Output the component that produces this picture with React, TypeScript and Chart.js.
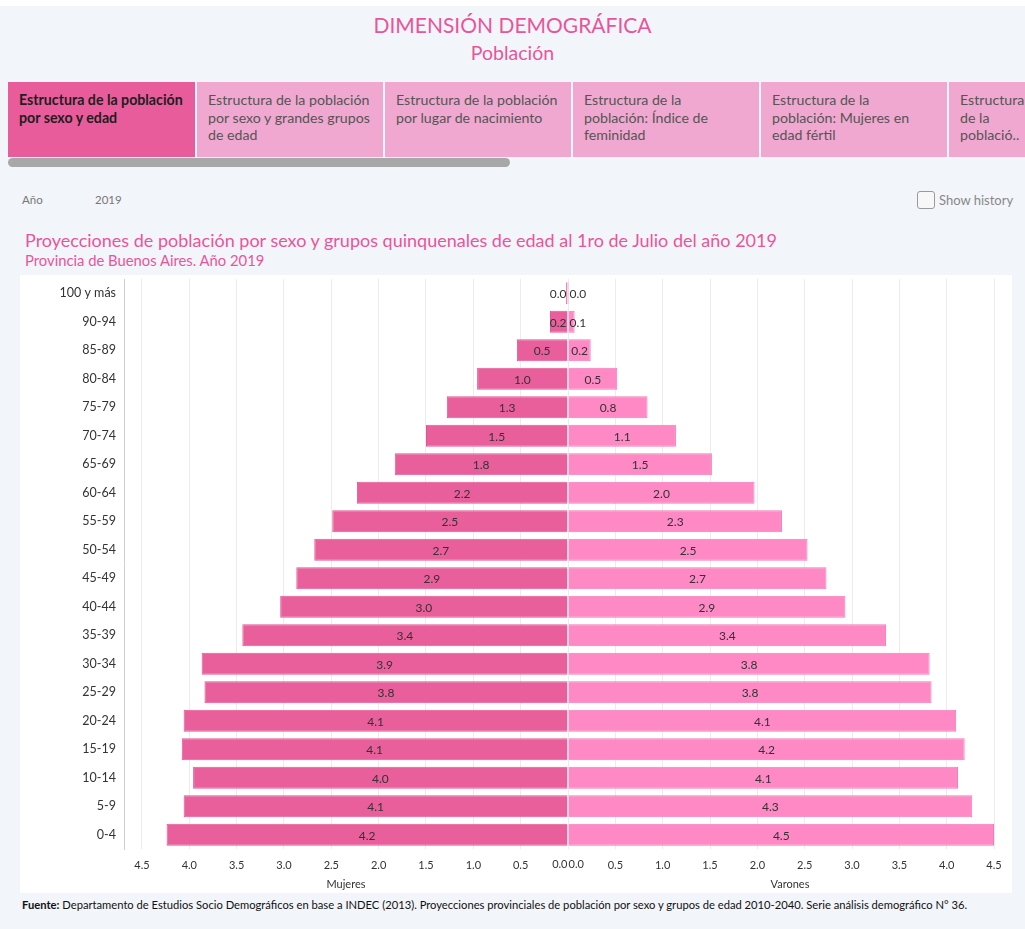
import React, { useEffect, useRef } from "react";
import { Chart, registerables } from "chart.js";

Chart.register(...registerables);

const ageGroups = [
  "100 y más", "90-94", "85-89", "80-84", "75-79", "70-74", "65-69", "60-64", "55-59", "50-54",
  "45-49", "40-44", "35-39", "30-34", "25-29", "20-24", "15-19", "10-14", "5-9", "0-4",
];
const mujeres = [0.02, 0.19, 0.54, 0.96, 1.28, 1.5, 1.83, 2.23, 2.49, 2.68, 2.87, 3.04, 3.44, 3.87, 3.84, 4.06, 4.08, 3.96, 4.06, 4.24];
const varones = [0.01, 0.07, 0.24, 0.52, 0.84, 1.14, 1.52, 1.97, 2.26, 2.53, 2.73, 2.93, 3.36, 3.82, 3.84, 4.1, 4.19, 4.12, 4.27, 4.5];
const axisTicks = [0, 0.5, 1, 1.5, 2, 2.5, 3, 3.5, 4, 4.5];
const axisMax = 4.69;

const tabs = [
  "Estructura de la población por sexo y edad",
  "Estructura de la población por sexo y grandes grupos de edad",
  "Estructura de la población por lugar de nacimiento",
  "Estructura de la población: Índice de feminidad",
  "Estructura de la población: Mujeres en edad fértil",
  "Estructura de la població..",
];
const tabLines = [
  ["Estructura de la población", "por sexo y edad"],
  ["Estructura de la población", "por sexo y grandes grupos", "de edad"],
  ["Estructura de la población", "por lugar de nacimiento"],
  ["Estructura de la", "población: Índice de", "feminidad"],
  ["Estructura de la", "población: Mujeres en", "edad fértil"],
  ["Estructura", "de la", "població.."],
];

const FONT = "Lato, 'Open Sans', sans-serif";
const PINK = "#e8559b";

const labelPlugin = {
  id: "pyrLabels",
  afterDatasetsDraw(chart: any) {
    const ctx = chart.ctx;
    ctx.save();
    ctx.font = `12px ${FONT}`;
    ctx.fillStyle = "#333";
    ctx.textBaseline = "middle";
    ctx.textAlign = "left";
    chart.data.datasets.forEach((ds: any, di: number) => {
      const meta = chart.getDatasetMeta(di);
      meta.data.forEach((el: any, i: number) => {
        const txt = Number(ds.data[i]).toFixed(1);
        const w = ctx.measureText(txt).width;
        let cx = (el.x + el.base) / 2;
        if (di === 0) {
          if (cx + w / 2 > el.base - 1) cx = el.base - 1 - w / 2;
        } else {
          if (cx - w / 2 < el.base + 1) cx = el.base + 1 + w / 2;
        }
        ctx.fillText(txt, cx - w / 2, el.y + 1);
      });
    });
    ctx.restore();
  },
  afterDraw(chart: any) {
    const ctx = chart.ctx;
    const xM = chart.scales.xM;
    const xV = chart.scales.xV;
    ctx.save();
    ctx.font = `11px ${FONT}`;
    ctx.fillStyle = "#333";
    ctx.textBaseline = "top";
    ctx.textAlign = "right";
    ctx.fillText(axisTicks[0].toFixed(1), xM.getPixelForValue(0) - 0.5, xM.top + 10);
    ctx.textAlign = "left";
    ctx.fillText(axisTicks[0].toFixed(1), xV.getPixelForValue(0) + 0.5, xV.top + 10);
    ctx.restore();
  },
};

function xScale(reverse: boolean, title: string) {
  return {
    type: "linear",
    position: "bottom",
    stack: "pyr",
    stackWeight: 1,
    reverse,
    min: 0,
    max: axisMax,
    afterBuildTicks: (s: any) => {
      s.ticks = axisTicks.map((v) => ({ value: v }));
    },
    afterFit: (s: any) => {
      s.height = 44;
      s.paddingLeft = 0;
      s.paddingRight = 0;
    },
    grid: { color: "#ececec", lineWidth: 1, drawTicks: false },
    border: { display: false },
    ticks: {
      padding: 10,
      autoSkip: false,
      maxRotation: 0,
      font: { size: 11, family: FONT },
      color: (c: any) => (c.tick && c.tick.value === 0 ? "rgba(0,0,0,0)" : "#333"),
      callback: (v: any) => Number(v).toFixed(1),
    },
    title: {
      display: true,
      text: title,
      color: "#333",
      font: { size: 11, family: FONT },
      padding: { top: 2, bottom: 2 },
    },
  };
}

function Pyramid() {
  const ref = useRef<HTMLCanvasElement | null>(null);
  useEffect(() => {
    if (!ref.current) return;
    const chart = new Chart(ref.current, {
      type: "bar",
      data: {
        labels: ageGroups,
        datasets: [
          {
            label: "Mujeres",
            data: mujeres,
            xAxisID: "xM",
            yAxisID: "y",
            stack: "p",
            backgroundColor: "#e95f9b",
            borderColor: "#e25593",
            borderWidth: 1,
            barPercentage: 0.78,
            categoryPercentage: 1,
          },
          {
            label: "Varones",
            data: varones,
            xAxisID: "xV",
            yAxisID: "y",
            stack: "p",
            backgroundColor: "#fe89c5",
            borderColor: "#f27ab8",
            borderWidth: 1,
            barPercentage: 0.78,
            categoryPercentage: 1,
          },
        ],
      },
      options: {
        indexAxis: "y",
        animation: false,
        responsive: false,
        maintainAspectRatio: false,
        layout: { padding: { top: 4, right: 0, bottom: 0, left: 0 } },
        plugins: {
          legend: { display: false },
          tooltip: { enabled: false },
        },
        scales: {
          xM: xScale(true, "Mujeres"),
          xV: xScale(false, "Varones"),
          y: {
            type: "category",
            stacked: true,
            afterFit: (s: any) => {
              s.width = 104;
              s.paddingTop = 0;
              s.paddingBottom = 0;
            },
            grid: { display: false, drawTicks: false },
            border: { display: true, color: "#cfcfcf", width: 1 },
            ticks: {
              padding: 8,
              color: "#333",
              font: { size: 12.5, family: FONT },
              autoSkip: false,
            },
          },
        },
      } as any,
      plugins: [labelPlugin],
    } as any);
    return () => chart.destroy();
  }, []);
  return <canvas ref={ref} width={992} height={618} style={{ display: "block", width: 992, height: 618 }} />;
}

export default function App() {
  const tabW = 188;
  return (
    <div
      style={{
        position: "absolute",
        left: 0,
        top: 0,
        width: 1025,
        height: 929,
        background: "#f2f5f9",
        overflow: "hidden",
        fontFamily: FONT,
      }}
    >
      <div style={{ position: "absolute", left: 0, top: 0, width: 1025, height: 6, background: "#fff" }} />
      <div style={{ position: "absolute", left: 0, top: 10, width: 1025, textAlign: "center", color: PINK, fontSize: 21, lineHeight: "30px" }}>
        DIMENSIÓN DEMOGRÁFICA
      </div>
      <div style={{ position: "absolute", left: 0, top: 41, width: 1025, textAlign: "center", color: PINK, fontSize: 19.5, lineHeight: "24px" }}>
        Población
      </div>
      {tabLines.map((lines, i) => (
        <div
          key={i}
          title={tabs[i]}
          style={{
            position: "absolute",
            left: 8 + i * tabW + (i > 0 ? 1 : 0),
            top: 82,
            width: i === 5 ? 100 : tabW - (i > 0 ? 1 : 0) - 1,
            height: 75,
            background: i === 0 ? "#e85c9c" : "#f0a8d0",
            color: i === 0 ? "#1e1e1e" : "#555",
            fontWeight: i === 0 ? 700 : 400,
            fontSize: 14.2,
            lineHeight: "17.5px",
            padding: "9px 0 0 11px",
            boxSizing: "border-box",
            whiteSpace: "nowrap",
            overflow: "hidden",
          }}
        >
          {lines.map((l, j) => (
            <div key={j}>{l}</div>
          ))}
        </div>
      ))}
      <div style={{ position: "absolute", left: 8, top: 158, width: 502, height: 9, borderRadius: 5, background: "#a8a8a8" }} />
      <div style={{ position: "absolute", left: 22, top: 193, fontSize: 11.5, color: "#777", lineHeight: "14px" }}>Año</div>
      <div style={{ position: "absolute", left: 95, top: 193, fontSize: 11.5, color: "#777", lineHeight: "14px" }}>2019</div>
      <div
        style={{
          position: "absolute",
          left: 917,
          top: 191,
          width: 18,
          height: 18,
          border: "1px solid #9a9a9a",
          borderRadius: 3,
          boxSizing: "border-box",
          background: "#f7f7f7",
        }}
      />
      <div style={{ position: "absolute", left: 939, top: 192, fontSize: 13, color: "#888", lineHeight: "16px" }}>Show history</div>
      <div style={{ position: "absolute", left: 25, top: 228, fontSize: 18, color: PINK, lineHeight: "24px", whiteSpace: "nowrap" }}>
        Proyecciones de población por sexo y grupos quinquenales de edad al 1ro de Julio del año 2019
      </div>
      <div style={{ position: "absolute", left: 25, top: 251, fontSize: 14.8, color: PINK, lineHeight: "18px", whiteSpace: "nowrap" }}>
        Provincia de Buenos Aires. Año 2019
      </div>
      <div style={{ position: "absolute", left: 20, top: 275, width: 992, height: 618, background: "#fff" }}>
        <Pyramid />
      </div>
      <div style={{ position: "absolute", left: 22, top: 897, fontSize: 11.2, color: "#111", lineHeight: "15px", whiteSpace: "nowrap" }}>
        <b>Fuente:</b> Departamento de Estudios Socio Demográficos en base a INDEC (2013). Proyecciones provinciales de población por sexo y grupos de edad 2010-2040. Serie análisis demográfico N° 36.
      </div>
    </div>
  );
}
